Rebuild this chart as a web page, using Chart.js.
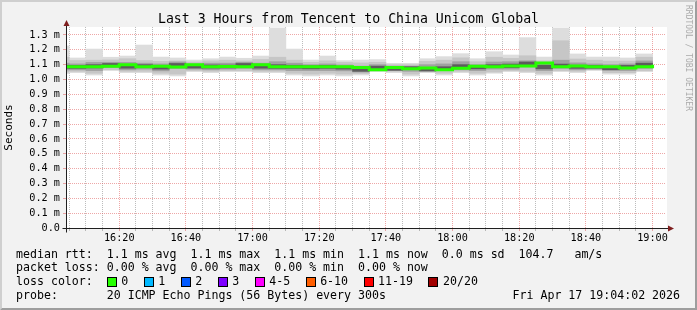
<!DOCTYPE html>
<html>
<head>
<meta charset="utf-8">
<script src="https://cdn.jsdelivr.net/npm/chart.js@4.4.1/dist/chart.umd.min.js"></script>
<style>
  html, body { margin:0; padding:0; background:#f2f2f2; }
  #wrap { position:relative; width:697px; height:310px; overflow:hidden; }
  #c { position:absolute; left:0; top:0; }
  .t { position:absolute; font-family:'DejaVu Sans Mono', monospace; color:#000; white-space:pre; }
  #title { left:0; width:697px; text-align:center; top:11.4px; font-size:13.2px; line-height:16px; }
  .lg { left:16px; font-size:11.6px; line-height:14px; }
  #wm { left:683px; top:4.5px; font-size:8px; line-height:10px; writing-mode:vertical-rl; color:#ababab; }
  .sq { display:inline-block; width:8px; height:8px; border:1px solid #000; vertical-align:-1.4px; margin-right:4.5px; }
  .li { margin-right:15.5px; }
</style>
</head>
<body>
<div id="wrap">
  <canvas id="c" width="697" height="310"></canvas>
  <div class="t" id="title"></div>
  <div class="t" id="wm"></div>
  <div class="t lg" id="row1" style="top:246.7px"></div>
  <div class="t lg" id="row2" style="top:260.3px"></div>
  <div class="t lg" id="row3" style="top:274.3px"></div>
  <div class="t lg" id="row4" style="top:288.3px"></div>
  <div class="t lg" id="date" style="top:288.3px;left:512.5px"></div>
</div>
<script>
// ---------- texts ----------
const titleText = 'Last 3 Hours from Tencent to China Unicom Global';
const yAxisTitle = 'Seconds';
const watermark = 'RRDTOOL / TOBI OETIKER';
const rttLine = 'median rtt:  1.1 ms avg  1.1 ms max  1.1 ms min  1.1 ms now  0.0 ms sd  104.7   am/s';
const lossLine = 'packet loss: 0.00 % avg  0.00 % max  0.00 % min  0.00 % now';
const lossColorLabel = 'loss color:  ';
const lossLabels = ['0', '1', '2', '3', '4-5', '6-10', '11-19', '20/20'];
const lossColors = ['#26ff00', '#00b8ff', '#0059ff', '#7e00ff', '#ff00ff', '#ff5e00', '#ff0000', '#a10000'];
const probeLine = 'probe:       20 ICMP Echo Pings (56 Bytes) every 300s';
const dateText = 'Fri Apr 17 19:04:02 2026';

// ---------- axes ----------
const viewStart = '16:04:02';
const viewEnd = '19:04:02';
const xTickLabels = ['16:20', '16:40', '17:00', '17:20', '17:40', '18:00', '18:20', '18:40', '19:00'];
const yTickValues = [0, 0.1, 0.2, 0.3, 0.4, 0.5, 0.6, 0.7, 0.8, 0.9, 1.0, 1.1, 1.2, 1.3];
const yTickLabels = ['0.0', '0.1 m', '0.2 m', '0.3 m', '0.4 m', '0.5 m', '0.6 m', '0.7 m', '0.8 m', '0.9 m', '1.0 m', '1.1 m', '1.2 m', '1.3 m'];
const yMax = 1.3535;

// ---------- data (ms), one value per 5-minute interval, labelled by interval end ----------
const intervalEnds = ['16:05','16:10','16:15','16:20','16:25','16:30','16:35','16:40','16:45','16:50','16:55',
  '17:00','17:05','17:10','17:15','17:20','17:25','17:30','17:35','17:40','17:45','17:50','17:55',
  '18:00','18:05','18:10','18:15','18:20','18:25','18:30','18:35','18:40','18:45','18:50','18:55','19:00'];

const median = [1.086,1.086,1.090,1.100,1.086,1.090,1.084,1.100,1.086,1.088,1.086,1.100,1.086,1.086,1.086,1.086,1.086,1.080,
  1.066,1.080,1.073,1.077,1.066,1.075,1.089,1.086,1.091,1.091,1.111,1.086,1.091,1.086,1.086,1.077,1.086,1.100];

const smokeHi1 = [1.226,1.145,1.205,1.150,1.158,1.232,1.151,1.145,1.131,1.140,1.151,1.143,1.158,1.347,1.205,1.131,1.158,1.127,
  1.131,1.134,1.109,1.109,1.140,1.154,1.174,1.140,1.187,1.165,1.282,1.151,1.347,1.172,1.151,1.151,1.145,1.172];
const smokeLo1 = [1.040,1.046,1.030,1.060,1.046,1.046,1.030,1.024,1.053,1.046,1.053,1.053,1.046,1.046,1.030,1.024,1.030,1.024,
  1.030,1.053,1.046,1.024,1.046,1.030,1.046,1.030,1.042,1.053,1.046,1.030,1.053,1.046,1.060,1.036,1.036,1.053];

const smokeHi2 = [1.150,1.128,1.130,1.132,1.140,1.128,1.122,1.125,1.118,1.126,1.130,1.125,1.135,1.150,1.130,1.116,1.126,1.115,
  1.112,1.116,1.100,1.100,1.122,1.130,1.146,1.120,1.150,1.142,1.160,1.126,1.261,1.138,1.130,1.124,1.124,1.150];
const smokeLo2 = [1.050,1.055,1.042,1.066,1.055,1.055,1.042,1.036,1.060,1.055,1.060,1.060,1.055,1.055,1.042,1.036,1.042,1.036,
  1.040,1.060,1.055,1.036,1.052,1.042,1.055,1.042,1.050,1.060,1.055,1.042,1.060,1.055,1.066,1.046,1.046,1.060];

const smokeHi3 = [1.110,1.105,1.115,1.116,1.115,1.110,1.105,1.118,1.105,1.110,1.110,1.116,1.110,1.120,1.110,1.100,1.105,1.098,
  1.090,1.100,1.090,1.090,1.100,1.105,1.120,1.100,1.118,1.120,1.126,1.105,1.130,1.112,1.105,1.100,1.105,1.125];
const smokeLo3 = [1.064,1.065,1.060,1.080,1.065,1.070,1.058,1.074,1.070,1.065,1.070,1.075,1.065,1.065,1.060,1.060,1.060,1.058,
  1.050,1.065,1.060,1.055,1.055,1.060,1.065,1.060,1.070,1.070,1.085,1.060,1.075,1.065,1.070,1.060,1.060,1.075];

const smokeHi4 = [1.096,1.095,1.100,1.108,1.096,1.100,1.094,1.108,1.095,1.098,1.097,1.108,1.096,1.100,1.096,1.092,1.095,1.088,
  1.075,1.090,1.082,1.086,1.078,1.086,1.100,1.095,1.100,1.104,1.118,1.096,1.104,1.096,1.095,1.088,1.095,1.110];
const smokeLo4 = [1.075,1.075,1.078,1.090,1.076,1.080,1.070,1.088,1.077,1.077,1.078,1.090,1.076,1.075,1.075,1.072,1.075,1.070,
  1.055,1.070,1.062,1.066,1.058,1.065,1.076,1.072,1.080,1.080,1.098,1.072,1.080,1.075,1.076,1.066,1.075,1.090];

// ---------- texts into DOM ----------
document.getElementById('title').textContent = titleText;
document.getElementById('wm').textContent = watermark;
document.getElementById('row1').textContent = rttLine;
document.getElementById('row2').textContent = lossLine;
document.getElementById('row4').textContent = probeLine;
document.getElementById('date').textContent = dateText;
const row3 = document.getElementById('row3');
row3.appendChild(document.createTextNode(lossColorLabel));
lossLabels.forEach((lab, i) => {
  const sq = document.createElement('span');
  sq.className = 'sq';
  sq.style.background = lossColors[i];
  row3.appendChild(sq);
  const t = document.createElement('span');
  t.className = 'li';
  t.textContent = lab;
  row3.appendChild(t);
});

// ---------- chart ----------
const toMin = s => { const p = s.split(':'); return (+p[0]) * 60 + (+p[1]) + (p[2] ? (+p[2]) / 60 : 0); };
const fmt = v => { const h = Math.floor(v / 60), m = Math.round(v - h * 60); return String(h).padStart(2, '0') + ':' + String(m).padStart(2, '0'); };
const STEP = 5;
const ends = intervalEnds.map(toMin);
const band = (lo, hi) => ends.map((e, i) => ({ x: e - STEP / 2, y: [lo[i], hi[i]] }));
const medLine = [{ x: ends[0] - STEP, y: median[0] }].concat(ends.map((e, i) => ({ x: e, y: median[i] })));

const FONT = "'DejaVu Sans Mono', monospace";
const GRID = 'rgba(143,143,143,0.6)';
const MGRID = 'rgba(222,79,79,0.5)';
const xMin = toMin(viewStart), xMax = toMin(viewEnd);

const frame = {
  id: 'frame',
  beforeDraw(chart) {
    const c = chart.ctx, W = chart.width, H = chart.height, a = chart.chartArea;
    c.save();
    c.fillStyle = '#f2f2f2'; c.fillRect(0, 0, W, H);
    c.fillStyle = '#cfcfcf';
    c.beginPath(); c.moveTo(0, 0); c.lineTo(W, 0); c.lineTo(W - 2, 2); c.lineTo(2, 2); c.lineTo(2, H - 2); c.lineTo(0, H); c.closePath(); c.fill();
    c.fillStyle = '#9e9e9e';
    c.beginPath(); c.moveTo(W, H); c.lineTo(0, H); c.lineTo(2, H - 2); c.lineTo(W - 2, H - 2); c.lineTo(W - 2, 2); c.lineTo(W, 0); c.closePath(); c.fill();
    c.fillStyle = '#ffffff'; c.fillRect(a.left, a.top, a.right - a.left + 1, a.bottom - a.top);
    c.restore();
  },
  afterDraw(chart) {
    const c = chart.ctx, a = chart.chartArea;
    const x0 = Math.round(a.left) + 0.5, y0 = Math.round(a.bottom) + 0.5;
    c.save();
    c.strokeStyle = '#1f1f1f'; c.lineWidth = 1;
    c.beginPath();
    c.moveTo(x0 - 4, y0); c.lineTo(a.right + 3, y0);
    c.moveTo(x0, y0 + 4); c.lineTo(x0, a.top - 2);
    c.stroke();
    c.fillStyle = '#7f1f1f';
    c.beginPath(); c.moveTo(a.right + 2, y0 - 3); c.lineTo(a.right + 2, y0 + 3); c.lineTo(a.right + 8, y0); c.closePath(); c.fill();
    c.beginPath(); c.moveTo(x0 - 3, a.top - 1); c.lineTo(x0 + 3, a.top - 1); c.lineTo(x0, a.top - 7); c.closePath(); c.fill();
    c.restore();
  }
};

new Chart(document.getElementById('c'), {
  type: 'bar',
  data: {
    datasets: [
      { type: 'line', data: medLine, borderColor: lossColors[0], borderWidth: 3, stepped: 'before',
        pointRadius: 0, fill: false, tension: 0, borderCapStyle: 'butt', borderJoinStyle: 'miter' },
      { type: 'bar', data: band(smokeLo4, smokeHi4), backgroundColor: '#5c5c5c' },
      { type: 'bar', data: band(smokeLo3, smokeHi3), backgroundColor: '#a0a0a0' },
      { type: 'bar', data: band(smokeLo2, smokeHi2), backgroundColor: '#c6c6c6' },
      { type: 'bar', data: band(smokeLo1, smokeHi1), backgroundColor: '#dddddd' }
    ]
  },
  options: {
    responsive: false,
    animation: false,
    devicePixelRatio: 1,
    events: [],
    datasets: { bar: { grouped: false, barPercentage: 1, categoryPercentage: 1, borderWidth: 0 } },
    plugins: { legend: { display: false }, tooltip: { enabled: false }, title: { display: false } },
    layout: { padding: { left: 0, top: 27, right: 31, bottom: 0 } },
    scales: {
      x: {
        type: 'linear', min: xMin, max: xMax, offset: false, z: 1,
        afterFit: s => { s.height = 82; },
        afterBuildTicks: s => {
          const t = [];
          for (let v = Math.ceil(xMin / STEP) * STEP; v <= xMax; v += STEP) t.push({ value: v });
          s.ticks = t;
        },
        ticks: {
          autoSkip: false, maxRotation: 0, minRotation: 0, padding: 1, color: '#000',
          font: { family: FONT, size: 10.2 },
          callback: v => (xTickLabels.includes(fmt(v)) ? fmt(v) : '')
        },
        grid: {
          offset: false, lineWidth: 1, tickLength: 3, drawTicks: true,
          color: ctx => (ctx.tick && xTickLabels.includes(fmt(ctx.tick.value)) ? MGRID : GRID)
        },
        border: { display: false, dash: [1, 1] }
      },
      y: {
        type: 'linear', min: 0, max: yMax, z: 1,
        afterFit: s => { s.width = 66; },
        afterBuildTicks: s => { s.ticks = yTickValues.map(v => ({ value: v })); },
        ticks: {
          padding: 3, color: '#000', font: { family: FONT, size: 10.2 },
          callback: (v, i) => yTickLabels[i]
        },
        grid: { lineWidth: 1, tickLength: 3, drawTicks: true, color: MGRID },
        border: { display: false, dash: [1, 1] },
        title: { display: true, text: yAxisTitle, color: '#000', font: { family: FONT, size: 11 }, padding: { top: 3, bottom: 0 } }
      }
    }
  },
  plugins: [frame]
});
</script>
</body>
</html>
